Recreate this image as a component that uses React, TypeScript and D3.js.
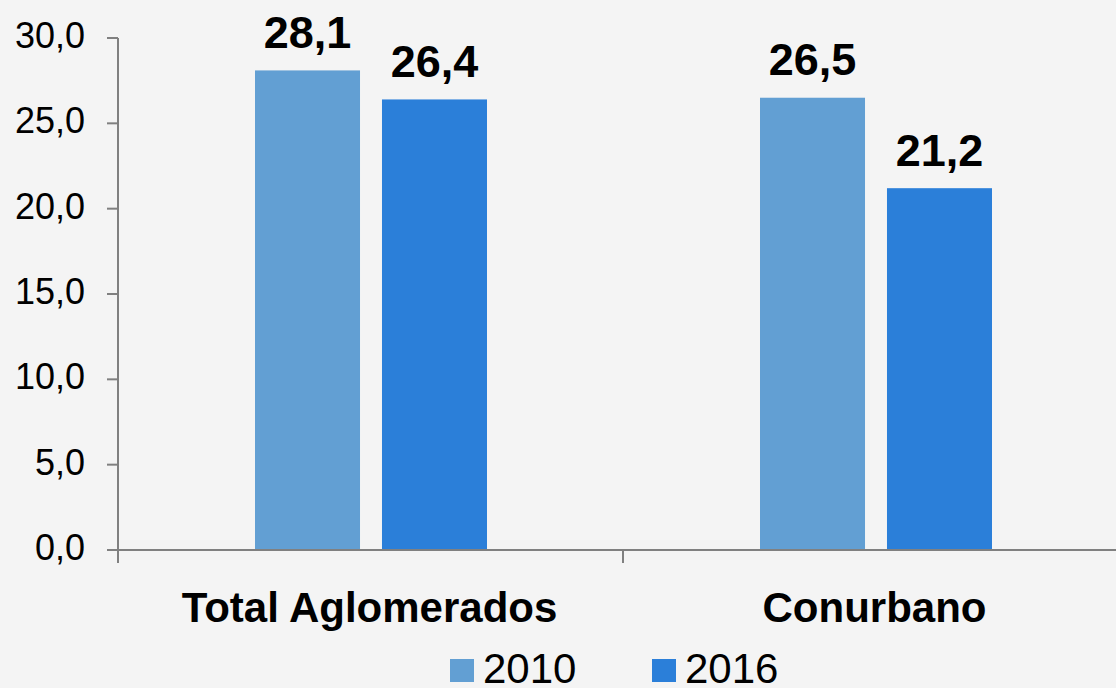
import React from "react";
import * as d3 from "d3";

const categories = ["Total Aglomerados", "Conurbano"];
const years = ["2010", "2016"];
const values2010 = [28.1, 26.5];
const values2016 = [26.4, 21.2];
const yTicks = [0, 5, 10, 15, 20, 25, 30];

const colors = ["#629fd3", "#2b7fd9"];
const font = "'Liberation Sans', Arial, sans-serif";

const App = () => {
  const width = 1116;
  const height = 688;
  const fmt = (v: number) => d3.format(".1f")(v).replace(".", ",");

  const x0 = d3.scaleBand().domain(categories).range([118, 1128]);
  const x1 = d3
    .scaleBand()
    .domain(years)
    .range([137, 369])
    .paddingInner(0.173);
  const y = d3.scaleLinear().domain([0, 30]).range([550, 38]);

  const series = [values2010, values2016];

  return (
    <svg
      width={width}
      height={height}
      style={{ position: "absolute", left: 0, top: 0, background: "#f4f4f4" }}
    >
      <rect width={width} height={height} fill="#f4f4f4" />
      {/* y axis */}
      <line x1={118} x2={118} y1={y(30)} y2={y(0)} stroke="#808080" strokeWidth={2} />
      {yTicks.map(t => (
        <g key={t}>
          <line x1={107} x2={118} y1={y(t)} y2={y(t)} stroke="#808080" strokeWidth={2} />
          <text
            x={85}
            y={y(t) + 10}
            textAnchor="end"
            fontFamily={font}
            fontSize={36}
            fill="#000"
          >
            {fmt(t)}
          </text>
        </g>
      ))}

      {/* bars */}
      {categories.map((c, ci) => (
        <g key={c} transform={`translate(${x0(c)},0)`}>
          {years.map((yr, si) => {
            const v = series[si][ci];
            const bx = x1(yr) as number;
            return (
              <g key={yr}>
                <rect
                  x={bx}
                  y={y(v)}
                  width={x1.bandwidth()}
                  height={y(0) - y(v)}
                  fill={colors[si]}
                />
                <text
                  x={bx + x1.bandwidth() / 2}
                  y={y(v) - 22.5}
                  textAnchor="middle"
                  fontFamily={font}
                  fontWeight="bold"
                  fontSize={45}
                  fill="#000"
                >
                  {fmt(v)}
                </text>
              </g>
            );
          })}
        </g>
      ))}

      {/* x axis */}
      <line x1={118} x2={width} y1={y(0)} y2={y(0)} stroke="#808080" strokeWidth={2} />
      {categories.map((c, ci) => (
        <line
          key={c}
          x1={x0(c) as number}
          x2={x0(c) as number}
          y1={y(0)}
          y2={y(0) + 13}
          stroke="#808080"
          strokeWidth={2}
        />
      ))}
      {categories.map(c => (
        <text
          key={c}
          x={(x0(c) as number) + x0.bandwidth() / 2 - 1}
          y={622}
          textAnchor="middle"
          fontFamily={font}
          fontWeight="bold"
          fontSize={42}
          fill="#000"
        >
          {c}
        </text>
      ))}

      {/* legend */}
      {years.map((yr, i) => {
        const lx = 450 + i * 202;
        return (
          <g key={yr}>
            <rect x={lx} y={659} width={24} height={23} fill={colors[i]} />
            <text
              x={lx + 33}
              y={683}
              fontFamily={font}
              fontSize={42}
              fill="#000"
            >
              {yr}
            </text>
          </g>
        );
      })}
    </svg>
  );
};

export default App;
